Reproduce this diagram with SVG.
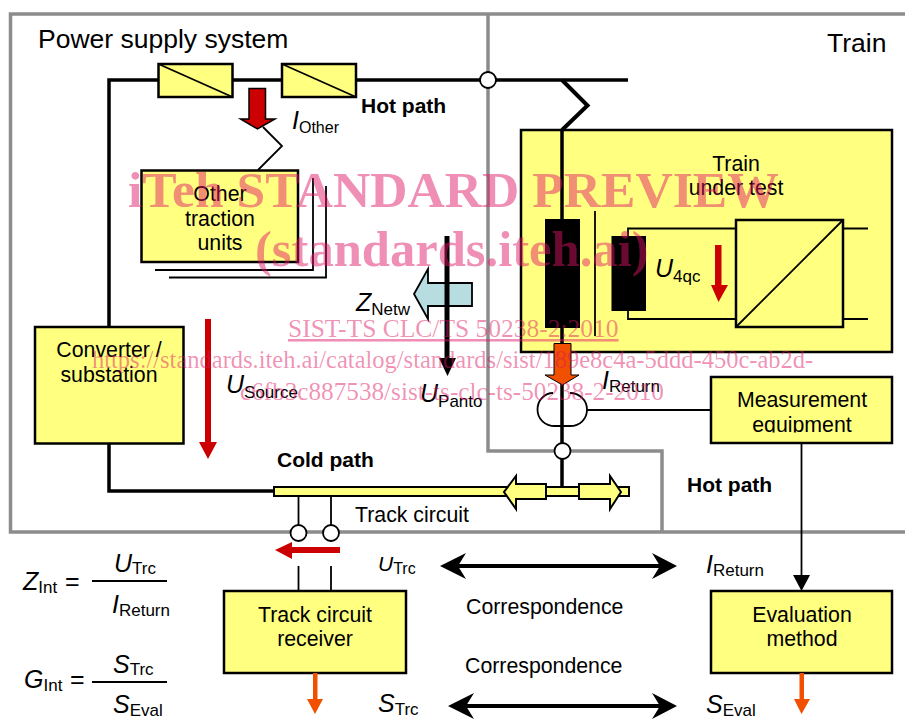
<svg xmlns="http://www.w3.org/2000/svg" width="905" height="719" viewBox="0 0 905 719">
<style>
text{font-family:"Liberation Sans",Arial,sans-serif;fill:#000}
.box{fill:#ffff80;stroke:#000;stroke-width:2.5}
.t{font-size:21.3px;text-anchor:middle}
.b{font-size:21px;font-weight:bold}
.v{font-size:25px}
.v .i{font-style:italic}
.v .s{font-size:17px}
.w{fill:none;stroke:#000;stroke-width:3.5}
.thin{fill:none;stroke:#000;stroke-width:1.8}
.frame{fill:none;stroke:#8c8c8c;stroke-width:3.5}
.c{fill:#fff;stroke:#000;stroke-width:1.8}
.wm{font-family:"Liberation Serif","Times New Roman",serif;fill:rgb(223,21,100);fill-opacity:.48}
.red{fill:#cc0000}
.org{fill:#f05000}
</style>
<defs>
<clipPath id="clipEq"><rect x="700" y="370" width="200" height="62.5"/></clipPath>
</defs>
<rect width="905" height="719" fill="#fff"/>

<g id="frames">
<path class="frame" d="M905 14H10.500V532H905"/>
<path class="frame" d="M488 14V451H662V532"/>
</g>

<g id="train-under-test">
<rect class="box" x="521" y="130" width="371" height="222"/>
<rect x="545" y="219" width="35" height="109"/>
<path class="thin" d="M595 211V336"/>
<rect x="611.500" y="236" width="34.500" height="75"/>
<path class="thin" d="M628 236V228.500H868M628 311V319H868"/>
<rect class="box" x="736" y="220" width="107" height="107"/>
<path class="thin" d="M736 327L843 220"/>
<text class="t" x="736" y="170.500">Train</text><text class="t" x="736" y="195">under test</text>
<text class="v" x="655" y="277"><tspan class="i">U</tspan><tspan class="s" dy="5">4qc</tspan></text>
<path class="red" d="M715 245H721.500V285H728L718.500 302L711 285H715Z"/>
</g>

<g id="z-netw">
<path fill="#b7dde0" stroke="#000" stroke-width="1.800" d="M472 283V306H428V319L414 294L428 269V283Z"/>
<text class="v" x="356" y="311"><tspan class="i">Z</tspan><tspan class="s" dy="4">Netw</tspan></text>
<text class="v" x="420" y="402"><tspan class="i">U</tspan><tspan class="s" dy="5">Panto</tspan></text>
</g>

<g id="connectors">
<path class="w" d="M628 80H109V491H274"/>
<path class="w" style="stroke-width:4" d="M562 80L587.500 105.500L562 130"/>
<path class="w" d="M562 130V219M562 328V487"/>
<path class="thin" d="M263 127L282 146L258 170"/>
<path class="thin" d="M298.500 496V525M331 496V525M298.500 566V591M331 566V591"/>
<path class="thin" d="M587 410H711"/>
<path class="thin" d="M801.500 443V576"/>
<path d="M793 575H810L801.500 591Z"/>
<path d="M447 236V362" class="w" style="stroke-width:5"/>
<path d="M439 358H456L447.500 376Z"/>
<path d="M444 566H673" class="w" style="stroke-width:4"/>
<path d="M440 566L466 553L458 566L466 579Z"/>
<path d="M677 566L652 553L660 566L652 579Z"/>
<path d="M452 706H673" class="w" style="stroke-width:4"/>
<path d="M448 706L474 693L466 706L474 719Z"/>
<path d="M677 706L652 693L660 706L652 719Z"/>
</g>

<g id="fuse1"><rect class="box" x="158.500" y="64" width="74" height="33"/><path class="thin" d="M158.500 64L232.500 97"/></g>
<g id="fuse2"><rect class="box" x="282" y="64" width="74" height="33"/><path class="thin" d="M282 64L356 97"/></g>

<g id="junction-hot"><circle class="c" cx="488" cy="80" r="8"/></g>

<g id="i-other"><path class="red" stroke="#000" stroke-width="1.500" d="M249 88.500H265.500V119H275L257.500 129L240.500 119H249Z"/>
<text class="v" x="292" y="129"><tspan class="i">I</tspan><tspan class="s" dy="4" style="font-size:16px">Other</tspan></text></g>

<g id="other-traction-units">
<path class="thin" d="M313 178V270H155M326 186V277.500H169"/>
<rect class="box" x="141.500" y="170.500" width="156.500" height="91.500"/>
<text class="t" x="220" y="201">Other</text><text class="t" x="220" y="226">traction</text><text class="t" x="220" y="250">units</text>
</g>

<g id="hot-path-1"><text class="b" x="361" y="113">Hot path</text></g>
<g id="hot-path-2"><text class="b" x="687" y="492">Hot path</text></g>
<g id="cold-path"><text class="b" x="277" y="467">Cold path</text></g>
<g id="title-power"><text x="38" y="48" style="font-size:26.500px">Power supply system</text></g>
<g id="title-train"><text x="827" y="52" style="font-size:26.500px">Train</text></g>

<g id="converter-substation">
<rect class="box" x="35" y="327" width="148.500" height="116.500"/>
<text class="t" x="109" y="357">Converter /</text><text class="t" x="109" y="382">substation</text>
</g>

<g id="u-source">
<path class="red" d="M205 319H211V442H217L208 459L199 442H205Z"/>
<text class="v" x="226" y="393"><tspan class="i">U</tspan><tspan class="s" dy="5">Source</tspan></text>
</g>

<g id="i-return">
<path class="org" stroke="#000" stroke-width="1" d="M554 343.500H571V375H579L562.500 385L545 375H554Z"/>
<path class="thin" d="M553 393C545 393 537.500 400 537.500 409.500C537.500 419 545 426 555 426H570C580 426 587 419 587 409.500C587 400 579 393 570 393"/>
<text class="v" x="602" y="389"><tspan class="i">I</tspan><tspan class="s" dy="3">Return</tspan></text>
</g>

<g id="junction-cold"><circle class="c" cx="562.500" cy="451" r="8"/></g>

<g id="measurement-equipment">
<rect class="box" x="711" y="377" width="181" height="66"/>
<text class="t" x="802" y="407">Measurement</text>
<text class="t" x="802" y="432" clip-path="url(#clipEq)">equipment</text>
</g>

<g id="track">
<rect class="box" style="stroke-width:2" x="274" y="487" width="355" height="9"/>
<path class="box" style="stroke-width:2" d="M546 484V499H516V509L504 492L516 476V484Z"/>
<path class="box" style="stroke-width:2" d="M579 484V499H610V509L621 492L610 476V484Z"/>
<text x="355" y="522" style="font-size:21.300px">Track circuit</text>
</g>
<g id="track-contact-1"><circle class="c" cx="298.500" cy="533" r="8"/></g>
<g id="track-contact-2"><circle class="c" cx="331" cy="533" r="8"/></g>
<g id="u-trc-arrow"><path class="red" d="M340 547V553H292V559L275 550L292 542V547Z"/></g>

<g id="track-circuit-receiver">
<rect class="box" x="224" y="591" width="182" height="82"/>
<text class="t" x="315" y="622">Track circuit</text><text class="t" x="315" y="646">receiver</text>
<path class="org" d="M313 673H317.500V699H323L315 714L307 699H313Z"/>
</g>

<g id="evaluation-method">
<rect class="box" x="711" y="591" width="181" height="82"/>
<text class="t" x="802" y="622">Evaluation</text><text class="t" x="802" y="646">method</text>
<path class="org" d="M799.500 673H804V699H810L801.500 714L794 699H799.500Z"/>
</g>

<g id="labels">
<text class="v" x="378" y="571" style="font-size:21px"><tspan class="i">U</tspan><tspan class="s" dy="3" style="font-size:16px">Trc</tspan></text>
<text class="v" x="706" y="573"><tspan class="i">I</tspan><tspan class="s" dy="3">Return</tspan></text>
<text class="v" x="378" y="712"><tspan class="i">S</tspan><tspan class="s" dy="3">Trc</tspan></text>
<text class="v" x="706" y="713"><tspan class="i">S</tspan><tspan class="s" dy="3">Eval</tspan></text>
<text x="466" y="614" style="font-size:21.300px">Correspondence</text>
<text x="465" y="673" style="font-size:21.300px">Correspondence</text>
</g>

<g id="formula-z">
<text class="v" x="23" y="590"><tspan class="i">Z</tspan><tspan class="s" dy="3">Int</tspan></text>
<text class="v" x="65" y="590">=</text>
<path class="thin" d="M92 581H167"/>
<text class="v" x="114" y="572"><tspan class="i">U</tspan><tspan class="s" dy="2">Trc</tspan></text>
<text class="v" x="112" y="613"><tspan class="i">I</tspan><tspan class="s" dy="3">Return</tspan></text>
</g>
<g id="formula-g">
<text class="v" x="24" y="688"><tspan class="i">G</tspan><tspan class="s" dy="3">Int</tspan></text>
<text class="v" x="70" y="688">=</text>
<path class="thin" d="M92 682H167"/>
<text class="v" x="113" y="673"><tspan class="i">S</tspan><tspan class="s" dy="2">Trc</tspan></text>
<text class="v" x="113" y="713"><tspan class="i">S</tspan><tspan class="s" dy="3">Eval</tspan></text>
</g>

<g id="watermark">
<text class="wm" x="128" y="207" style="font-size:51.600px;font-weight:bold">iTeh STANDARD PREVIEW</text>
<text class="wm" x="255" y="266" style="font-size:50.600px;font-weight:bold">(standards.iteh.ai)</text>
<text class="wm" x="288" y="337" style="font-size:25.500px;text-decoration:underline">SIST-TS CLC/TS 50238-2:2010</text>
<text class="wm" x="92" y="368" style="font-size:24.500px">https://standards.iteh.ai/catalog/standards/sist/189e8c4a-5ddd-450c-ab2d-</text>
<text class="wm" x="240" y="400" style="font-size:25.200px">c6fb3c887538/sist-ts-clc-ts-50238-2-2010</text>
</g>
</svg>
